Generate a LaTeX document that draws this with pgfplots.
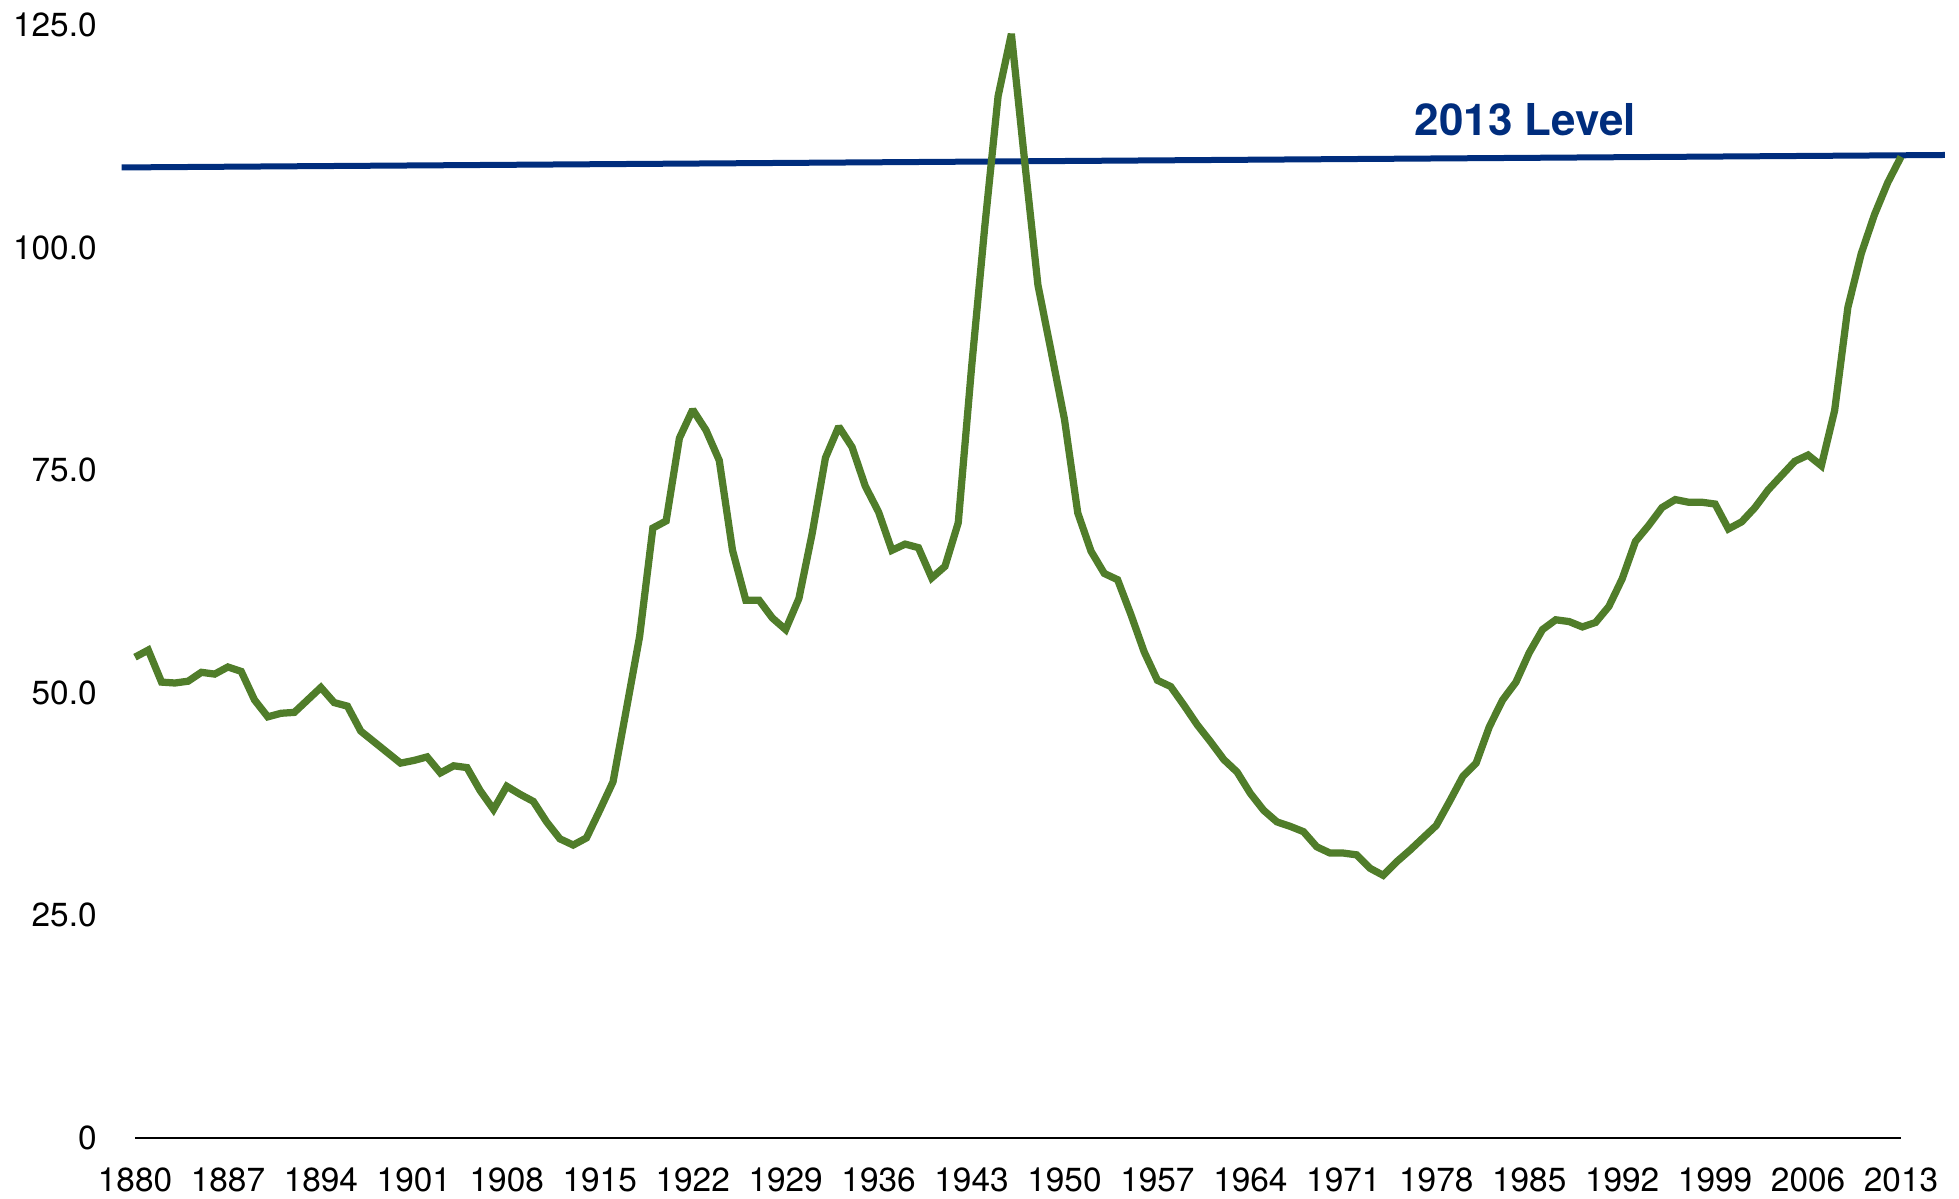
\documentclass[border=0pt]{standalone}
\usepackage{fontspec}
\setmainfont{TeX Gyre Heros}
\usepackage{pgfplots}
\pgfplotsset{compat=1.18}

\definecolor{debtgreen}{RGB}{80,125,42}
\definecolor{levelblue}{RGB}{0,45,125}

\pgfplotstableread{
year value
1880 54.0
1881 54.8
1882 51.2
1883 51.1
1884 51.3
1885 52.3
1886 52.1
1887 52.9
1888 52.4
1889 49.2
1890 47.3
1891 47.7
1892 47.8
1893 49.2
1894 50.6
1895 48.9
1896 48.5
1897 45.7
1898 44.5
1899 43.3
1900 42.1
1901 42.4
1902 42.8
1903 41.0
1904 41.8
1905 41.6
1906 39.0
1907 36.9
1908 39.5
1909 38.6
1910 37.8
1911 35.5
1912 33.6
1913 32.9
1914 33.7
1915 36.8
1916 40.0
1917 48.1
1918 56.3
1919 68.5
1920 69.3
1921 78.6
1922 81.8
1923 79.5
1924 76.1
1925 66.0
1926 60.4
1927 60.4
1928 58.4
1929 57.1
1930 60.6
1931 67.9
1932 76.4
1933 79.9
1934 77.6
1935 73.2
1936 70.3
1937 66.0
1938 66.7
1939 66.3
1940 62.9
1941 64.2
1942 69.1
1943 86.5
1944 102.4
1945 117.0
1946 124.0
1947 109.7
1948 95.8
1949 88.3
1950 80.7
1951 70.2
1952 65.9
1953 63.4
1954 62.7
1955 58.8
1956 54.6
1957 51.4
1958 50.7
1959 48.6
1960 46.4
1961 44.5
1962 42.5
1963 41.1
1964 38.7
1965 36.8
1966 35.5
1967 35.0
1968 34.4
1969 32.7
1970 32.0
1971 32.0
1972 31.8
1973 30.3
1974 29.5
1975 31.0
1976 32.3
1977 33.7
1978 35.1
1979 37.8
1980 40.6
1981 42.1
1982 46.2
1983 49.2
1984 51.2
1985 54.5
1986 57.1
1987 58.2
1988 58.0
1989 57.4
1990 57.9
1991 59.7
1992 62.8
1993 67.0
1994 68.8
1995 70.8
1996 71.7
1997 71.4
1998 71.4
1999 71.2
2000 68.4
2001 69.2
2002 70.8
2003 72.8
2004 74.4
2005 76.0
2006 76.7
2007 75.5
2008 81.7
2009 93.3
2010 99.3
2011 103.7
2012 107.3
2013 110.2
}\debtdata

\begin{document}
\begin{tikzpicture}
  % page = 1959 x 1198 px at 0.2mm per px
  \useasboundingbox (0,0) rectangle (391.8mm,239.6mm);
  \begin{axis}[
    at={(27mm,12mm)}, anchor=south west,
    scale only axis,
    width=353.2mm, height=222.6mm,
    xmin=1880, xmax=2013,
    ymin=0, ymax=125,
    enlargelimits=false,
    clip=false,
    axis x line=bottom,
    axis y line=left,
    x axis line style={-, black, line width=0.4mm},
    y axis line style={draw=none},
    major tick length=0pt,
    xtick={1880,1887,...,2013},
    xticklabels={1880,1887,1894,1901,1908,1915,1922,1929,1936,1943,1950,1957,1964,1971,1978,1985,1992,1999,2006,2013},
    ytick={0,25,50,75,100,125},
    yticklabels={0,25.0,50.0,75.0,100.0,125.0},
    tick label style={font=\fontsize{19}{22}\selectfont, text=black},
    xticklabel style={anchor=north, inner sep=0pt, yshift=-5.8mm},
    yticklabel style={anchor=east, inner sep=0pt, xshift=-7.6mm},
  ]
    \addplot[levelblue, line width=1.2mm] coordinates {(1879.0,109.0) (2016.3,110.4)};
    \addplot[debtgreen, line width=1.45mm, line join=miter, miter limit=2] table[x=year, y=value] {\debtdata};
    \node[font=\fontsize{25}{30}\selectfont\bfseries, text=levelblue] at (axis cs:1984.7,114.4) {2013 Level};
  \end{axis}
\end{tikzpicture}
\end{document}
